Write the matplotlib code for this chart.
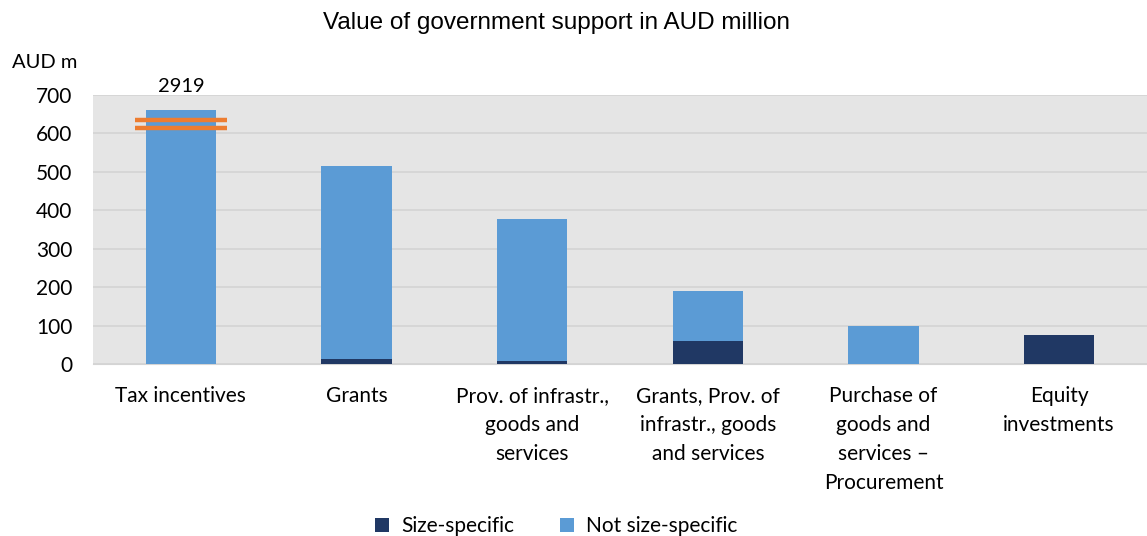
import matplotlib
matplotlib.use('Agg')
import matplotlib.pyplot as plt
import numpy as np

categories = ['Tax incentives', 'Grants', 'Prov. of infrastr.,\ngoods and\nservices',
              'Grants, Prov. of\ninfrastr., goods\nand services',
              'Purchase of\ngoods and\nservices \u2013\nProcurement', 'Equity\ninvestments']
size_specific = [0, 14, 7, 60, 0, 75]
not_size_specific = [2919, 501, 370, 130, 100, 0]
cap = 660  # tallest bar is cut off at this height

plt.rcParams['font.family'] = ['Lato', 'DejaVu Sans']

fig = plt.figure(figsize=(11.47, 5.36), dpi=100)
ax = fig.add_axes([0.0811, 0.321, 0.9189, 0.502])
ax.set_facecolor('#e5e5e5')

x = np.arange(len(categories))
shown = [min(a + b, cap) - a for a, b in zip(size_specific, not_size_specific)]
ax.bar(x, size_specific, 0.4, color='#203864', label='Size-specific', zorder=3)
ax.bar(x, shown, 0.4, bottom=size_specific, color='#5b9bd5',
       label='Not size-specific', zorder=3)

# broken-axis marks and the real total for the capped bar
for i, (a, b) in enumerate(zip(size_specific, not_size_specific)):
    if a + b > cap:
        for yy in (614, 635):
            ax.plot([i - 0.26, i + 0.26], [yy, yy], color='#ed7d31', lw=3.2,
                    solid_capstyle='butt', zorder=4)
        ax.text(i, 700, str(a + b), ha='center', va='bottom', fontsize=14.5,
                clip_on=False)

ax.set_xlim(-0.5, 5.5)
ax.set_ylim(0, 700)
ax.set_yticks(range(0, 701, 100))
ax.yaxis.grid(True, color='#d4d4d4', lw=1.2, zorder=0)
ax.tick_params(axis='both', length=0, labelsize=15)
ax.tick_params(axis='y', pad=15)
ax.tick_params(axis='x', pad=16)
ax.set_xticks(x)
ax.set_xticklabels(categories, linespacing=1.55)
for s in ['top', 'right', 'left']:
    ax.spines[s].set_visible(False)
ax.spines['bottom'].set_color('#d4d4d4')

fig.text(0.0105, 0.873, 'AUD m', fontsize=14.5)
fig.text(0.485, 0.957, 'Value of government support in AUD million', ha='center',
         va='center', fontsize=17.5, family=['Liberation Sans', 'DejaVu Sans'])

fig.legend(loc='lower center', bbox_to_anchor=(0.485, -0.035), ncol=2, frameon=False,
           fontsize=15, handlelength=0.65, handleheight=0.65, columnspacing=2.2,
           handletextpad=0.6)

fig.savefig('out.png', dpi=100)
